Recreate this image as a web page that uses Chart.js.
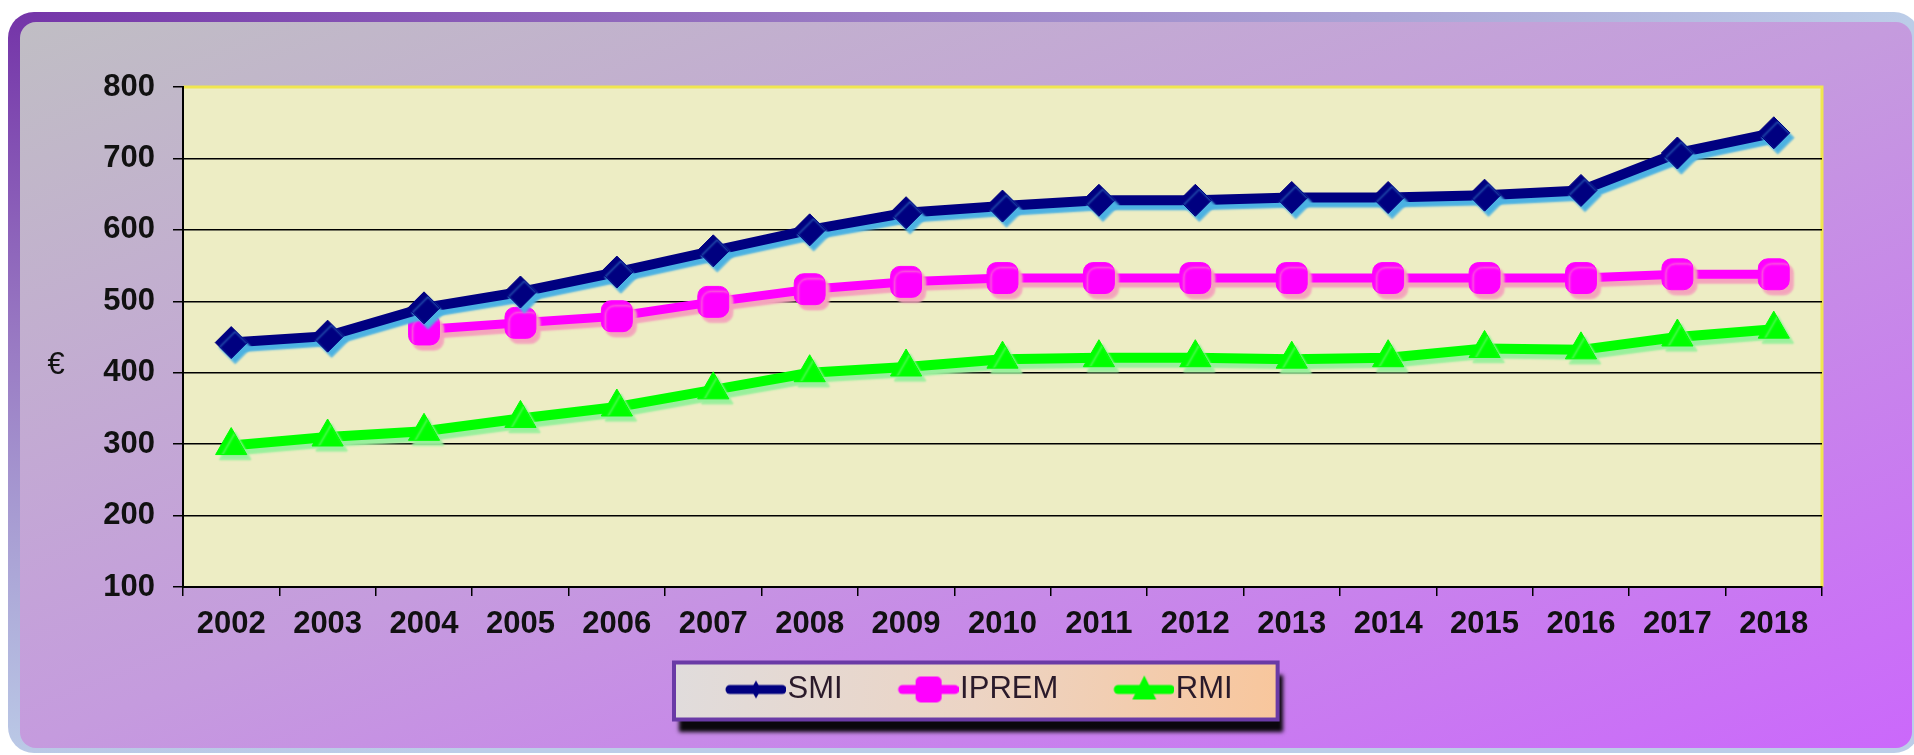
<!DOCTYPE html>
<html>
<head>
<meta charset="utf-8">
<script src="https://cdn.jsdelivr.net/npm/chart.js@4.4.1/dist/chart.umd.min.js"></script>
<style>
  html, body { margin: 0; padding: 0; background: #fff; overflow: hidden; }
  #page { position: relative; width: 1914px; height: 755px; overflow: hidden; }
  #frame {
    position: absolute; left: 8px; top: 12px; width: 1912px; height: 741px;
    border-radius: 26px;
    background: radial-gradient(ellipse 1900px 760px at 0 0, #7434a8 0%, #9a7cc4 45%, #bccde8 100%);
  }
  #inner {
    position: absolute; left: 12px; top: 10px; width: 1892px; height: 726px;
    border-radius: 16px;
    background: linear-gradient(to bottom right, #c0bec4 0%, #c59bde 50%, #cb68fb 100%);
  }
  #wrap { position: absolute; left: 0; top: 0; width: 1914px; height: 755px; }
</style>
</head>
<body>
<div id="page">
  <div id="frame"><div id="inner"></div></div>
  <div id="wrap"><canvas id="salaryChart"></canvas></div>
</div>
<script>
// data (€ per month)
const years = ["2002", "2003", "2004", "2005", "2006", "2007", "2008", "2009", "2010",
  "2011", "2012", "2013", "2014", "2015", "2016", "2017", "2018"];
const smi = [442.2, 451.2, 490.8, 513.0, 540.9, 570.6, 600.0, 624.0, 633.3,
  641.4, 641.4, 645.3, 645.3, 648.6, 655.2, 707.6, 735.9];
const iprem = [null, null, 460.5, 469.8, 479.1, 499.2, 516.9, 527.2, 532.5,
  532.5, 532.5, 532.5, 532.5, 532.5, 532.5, 537.8, 537.8];
const rmi = [298, 310, 318, 336, 352, 376, 400, 408, 419,
  421, 421, 419, 421, 434, 432, 450, 461];
const yTicks = [100, 200, 300, 400, 500, 600, 700, 800];
const seriesNames = ["SMI", "IPREM", "RMI"];

const lineColors = ["#000080", "#ff00ff", "#00ff00"];
const shadowColors = ["#4cb2e2", "#f4a4bc", "#98f09c"];

// small legend samples: a thick line with the marker in the middle
function legendSample(color, kind) {
  const c = document.createElement("canvas");
  c.width = 92;
  c.height = 36;
  const g = c.getContext("2d");
  g.strokeStyle = color;
  g.fillStyle = color;
  g.lineWidth = 9;
  g.lineCap = "round";
  g.beginPath();
  g.moveTo(36, 18);
  g.lineTo(88, 18);
  g.stroke();
  g.beginPath();
  if (kind === "diamond") {
    g.moveTo(62, 9); g.lineTo(67, 18); g.lineTo(62, 27); g.lineTo(57, 18);
  } else if (kind === "square") {
    g.roundRect(49, 5, 26, 26, 5);
  } else {
    g.moveTo(62, 4); g.lineTo(74, 28); g.lineTo(50, 28);
  }
  g.closePath();
  g.fill();
  return c;
}
const samples = [
  legendSample(lineColors[0], "diamond"),
  legendSample(lineColors[1], "square"),
  legendSample(lineColors[2], "triangle"),
];

const decor = {
  id: "decor",
  afterLayout(chart) {
    // move the legend row so it sits where the original one does
    const lg = chart.legend;
    const pad = lg.options.labels.padding;
    const start = (lg.left + pad + lg.right - lg.lineWidths[0]) / 2;
    const shift = 708 - start;
    lg.left += shift;
    lg.right += shift;
  },
  beforeDraw(chart) {
    const { ctx, chartArea: a } = chart;
    ctx.save();
    // plot background with yellow top/right edge
    ctx.fillStyle = "#ededc4";
    ctx.fillRect(a.left, a.top, a.right - a.left, a.bottom - a.top);
    ctx.strokeStyle = "#f0e650";
    ctx.lineWidth = 3;
    ctx.beginPath();
    ctx.moveTo(a.left, a.top);
    ctx.lineTo(a.right, a.top);
    ctx.lineTo(a.right, a.bottom);
    ctx.stroke();

    // legend box
    const hb = chart.legend.legendHitBoxes;
    if (hb && hb.length) {
      const first = hb[0];
      const last = hb[hb.length - 1];
      const cy = first.top + first.height / 2;
      const bx = first.left - 34;
      const bw = last.left + last.width + 45 - bx;
      const by = cy - 27;
      const bh = 57;
      ctx.shadowColor = "rgba(0,0,0,0.95)";
      ctx.shadowOffsetX = 5;
      ctx.shadowOffsetY = 12;
      ctx.shadowBlur = 4;
      const grad = ctx.createLinearGradient(bx, by, bx + bw, by + bh);
      grad.addColorStop(0, "#e0dcdc");
      grad.addColorStop(0.5, "#ecd4c4");
      grad.addColorStop(1, "#f8c69c");
      ctx.fillStyle = grad;
      ctx.fillRect(bx, by, bw, bh);
      ctx.shadowColor = "transparent";
      ctx.strokeStyle = "#6a3aa6";
      ctx.lineWidth = 4;
      ctx.strokeRect(bx, by, bw, bh);
    }

    // unit label, upright
    ctx.fillStyle = "#111";
    ctx.font = "31px 'Liberation Sans', Arial, sans-serif";
    ctx.textAlign = "center";
    ctx.textBaseline = "middle";
    ctx.fillText("€", a.left - 127, a.top + 278);
    ctx.restore();
  },
  beforeDatasetDraw(chart, args) {
    const ctx = chart.ctx;
    ctx.save();
    ctx.shadowColor = shadowColors[args.index];
    ctx.shadowOffsetX = 4;
    ctx.shadowOffsetY = 5;
    ctx.shadowBlur = 2;
  },
  afterDatasetDraw(chart) {
    chart.ctx.restore();
  },
};

const tickFont = { family: "'Liberation Sans', Arial, sans-serif", size: 31, weight: "bold" };

new Chart(document.getElementById("salaryChart"), {
  type: "line",
  data: {
    labels: years,
    datasets: [
      {
        label: seriesNames[0],
        data: smi,
        borderColor: lineColors[0],
        backgroundColor: lineColors[0],
        borderWidth: 10,
        pointStyle: "rectRot",
        pointRadius: 16,
        pointBorderWidth: 1,
      },
      {
        label: seriesNames[1],
        data: iprem,
        borderColor: lineColors[1],
        backgroundColor: lineColors[1],
        borderWidth: 9,
        pointStyle: "rectRounded",
        pointRadius: 18,
        pointBorderWidth: 1,
      },
      {
        label: seriesNames[2],
        data: rmi,
        borderColor: lineColors[2],
        backgroundColor: lineColors[2],
        borderWidth: 10,
        pointStyle: "triangle",
        pointRadius: 18,
        pointBorderWidth: 1,
      },
    ],
  },
  options: {
    responsive: true,
    maintainAspectRatio: false,
    animation: false,
    events: [],
    clip: false,
    layout: { padding: { left: 20, top: 87, right: 92, bottom: 40 } },
    elements: { line: { tension: 0 } },
    plugins: {
      tooltip: { enabled: false },
      legend: {
        position: "bottom",
        labels: {
          usePointStyle: true,
          pointStyleWidth: 64,
          padding: 38,
          color: "#2a1a2a",
          font: { family: "'Liberation Sans', Arial, sans-serif", size: 31 },
          generateLabels(chart) {
            const items = Chart.defaults.plugins.legend.labels.generateLabels(chart);
            items.forEach((it, i) => { it.pointStyle = samples[i]; });
            return items;
          },
        },
      },
    },
    scales: {
      x: {
        offset: true,
        afterFit(s) { s.height = 49; },
        border: { color: "#000", width: 2 },
        grid: { offset: true, drawOnChartArea: false, tickLength: 9, color: "#000", lineWidth: 1.5 },
        ticks: { font: tickFont, color: "#111", padding: 10, maxRotation: 0, autoSkip: false },
      },
      y: {
        min: 100,
        max: 800,
        afterFit(s) { s.width = 163; },
        afterBuildTicks(s) { s.ticks = yTicks.map((v) => ({ value: v })); },
        border: { color: "#000", width: 2 },
        grid: {
          color: (c) => (c.tick && c.tick.value === 800 ? "rgba(0,0,0,0)" : "#000"),
          tickColor: "#000",
          lineWidth: 1.5,
          tickLength: 10,
        },
        ticks: { font: tickFont, color: "#111", padding: 18 },
      },
    },
  },
  plugins: [decor],
});
</script>
</body>
</html>
